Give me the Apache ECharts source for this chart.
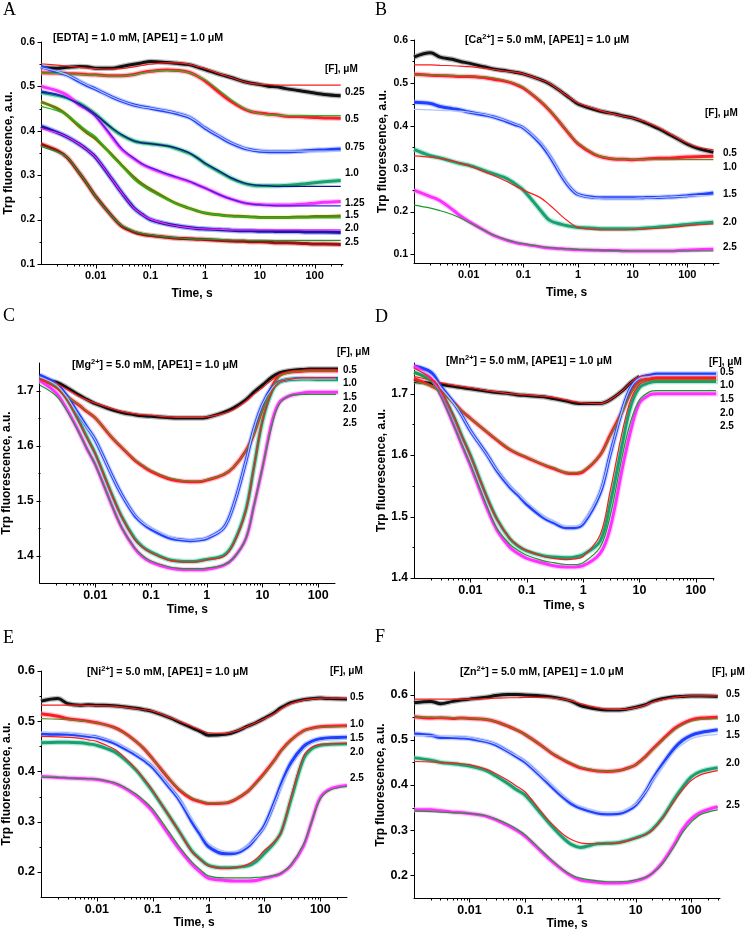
<!DOCTYPE html>
<html><head><meta charset="utf-8">
<script src="https://cdn.jsdelivr.net/npm/echarts@6/dist/echarts.min.js"></script>
<style>html,body{margin:0;padding:0;background:#fff}#c{width:745px;height:934px}</style>
</head><body><div id="c"></div>
<script>
// time points (s) shared by all traces
const timeS = [0.001,0.002,0.003,0.005,0.007,0.01,0.02,0.03,0.05,0.07,0.1,0.2,0.3,0.5,0.7,1,2,3,5,7,10,15,20,30,50,70,100,150,300];
const xTickVals = [0.01,0.1,1,10,100];
const xTickLabels = ['0.01','0.1','1','10','100'];

// ---- Panel A : [EDTA]
const aLabels = ['0.25','0.5','0.75','1.0','1.25','1.5','2.0','2.5'];
const a025Data=[0.543,0.541,0.543,0.545,0.544,0.541,0.541,0.545,0.550,0.553,0.556,0.554,0.552,0.549,0.544,0.538,0.526,0.520,0.511,0.507,0.504,0.500,0.499,0.495,0.491,0.488,0.485,0.482,0.479];
const a025Fit =[0.551,0.548,0.546,0.543,0.541,0.540,0.539,0.540,0.544,0.547,0.550,0.553,0.553,0.550,0.545,0.540,0.527,0.520,0.511,0.507,0.505,0.504,0.503,0.503,0.503,0.503,0.503,0.503,0.503];
const a05Data =[0.531,0.530,0.529,0.528,0.527,0.526,0.524,0.524,0.527,0.531,0.534,0.537,0.536,0.532,0.524,0.512,0.482,0.466,0.450,0.443,0.440,0.437,0.436,0.433,0.432,0.431,0.430,0.429,0.428];
const a05Fit  =[0.530,0.529,0.528,0.527,0.526,0.525,0.523,0.523,0.526,0.530,0.533,0.536,0.535,0.531,0.524,0.515,0.487,0.470,0.452,0.444,0.439,0.436,0.435,0.434,0.434,0.434,0.434,0.434,0.434];
const a075Data=[0.545,0.532,0.526,0.511,0.502,0.494,0.476,0.467,0.458,0.454,0.451,0.444,0.439,0.431,0.420,0.406,0.384,0.372,0.361,0.357,0.354,0.353,0.353,0.353,0.354,0.355,0.356,0.357,0.359];
const a075Fit =[0.542,0.534,0.526,0.512,0.503,0.494,0.476,0.467,0.458,0.454,0.451,0.445,0.440,0.432,0.421,0.407,0.385,0.373,0.362,0.357,0.355,0.354,0.354,0.354,0.354,0.354,0.354,0.354,0.354];
const a10Data =[0.487,0.480,0.474,0.462,0.451,0.437,0.405,0.390,0.377,0.373,0.371,0.366,0.360,0.350,0.340,0.326,0.305,0.293,0.282,0.278,0.276,0.276,0.276,0.277,0.279,0.281,0.283,0.285,0.288];
const a10Fit  =[0.487,0.481,0.474,0.461,0.450,0.436,0.406,0.391,0.377,0.373,0.371,0.366,0.361,0.351,0.340,0.327,0.306,0.294,0.283,0.279,0.277,0.276,0.275,0.275,0.275,0.275,0.275,0.275,0.275];
const a125Data=[0.500,0.490,0.480,0.458,0.448,0.433,0.385,0.358,0.337,0.325,0.316,0.302,0.295,0.286,0.279,0.271,0.254,0.246,0.238,0.235,0.234,0.233,0.233,0.233,0.234,0.235,0.237,0.239,0.241];
const a125Fit =[0.490,0.482,0.474,0.458,0.447,0.432,0.387,0.360,0.338,0.326,0.317,0.303,0.296,0.287,0.279,0.271,0.254,0.246,0.238,0.235,0.233,0.232,0.231,0.231,0.231,0.231,0.231,0.231,0.231];
const a15Data =[0.465,0.450,0.435,0.410,0.395,0.382,0.345,0.322,0.295,0.280,0.268,0.247,0.236,0.226,0.220,0.215,0.210,0.208,0.207,0.206,0.205,0.205,0.205,0.205,0.206,0.206,0.207,0.207,0.208];
const a15Fit  =[0.455,0.445,0.435,0.414,0.400,0.387,0.342,0.320,0.290,0.276,0.264,0.245,0.235,0.226,0.220,0.215,0.209,0.207,0.206,0.205,0.204,0.204,0.204,0.204,0.204,0.204,0.204,0.204,0.204];
const a20Data =[0.410,0.396,0.386,0.370,0.357,0.340,0.290,0.260,0.226,0.212,0.200,0.190,0.186,0.182,0.180,0.179,0.177,0.176,0.175,0.175,0.174,0.174,0.173,0.173,0.173,0.172,0.172,0.172,0.171];
const a20Fit  =[0.405,0.395,0.386,0.370,0.357,0.340,0.290,0.260,0.226,0.212,0.201,0.190,0.186,0.182,0.180,0.179,0.178,0.177,0.177,0.177,0.177,0.177,0.177,0.177,0.177,0.177,0.177,0.177,0.177];
const a25Data =[0.370,0.355,0.340,0.305,0.280,0.252,0.207,0.185,0.172,0.167,0.164,0.160,0.158,0.157,0.156,0.155,0.153,0.152,0.151,0.150,0.150,0.149,0.148,0.148,0.147,0.146,0.145,0.145,0.144];
const a25Fit  =[0.365,0.352,0.340,0.305,0.280,0.252,0.207,0.187,0.174,0.169,0.166,0.161,0.159,0.157,0.156,0.156,0.155,0.154,0.154,0.153,0.153,0.153,0.153,0.153,0.153,0.153,0.153,0.153,0.153];
const aYTicks = [0.1,0.2,0.3,0.4,0.5,0.6];

// ---- Panel B : [Ca2+]
const bLabels = ['0.5','1.0','1.5','2.0','2.5'];
const b05Data=[0.560,0.570,0.560,0.555,0.550,0.546,0.537,0.532,0.528,0.525,0.521,0.508,0.498,0.479,0.465,0.451,0.438,0.432,0.427,0.422,0.418,0.410,0.403,0.393,0.378,0.368,0.357,0.348,0.338];
const b05Fit =[0.542,0.542,0.541,0.540,0.539,0.538,0.534,0.531,0.527,0.525,0.521,0.508,0.499,0.479,0.466,0.453,0.440,0.433,0.426,0.422,0.418,0.412,0.406,0.396,0.380,0.370,0.360,0.351,0.344];
const b10Data=[0.520,0.518,0.517,0.516,0.515,0.515,0.512,0.508,0.503,0.497,0.488,0.458,0.436,0.403,0.380,0.358,0.333,0.326,0.322,0.322,0.321,0.322,0.323,0.324,0.325,0.326,0.327,0.328,0.329];
const b10Fit =[0.518,0.518,0.518,0.517,0.517,0.516,0.514,0.511,0.505,0.499,0.490,0.460,0.438,0.405,0.382,0.360,0.335,0.327,0.323,0.322,0.321,0.321,0.321,0.321,0.321,0.321,0.321,0.321,0.321];
const b15Data=[0.455,0.452,0.445,0.440,0.437,0.432,0.425,0.420,0.410,0.403,0.395,0.360,0.330,0.283,0.257,0.240,0.233,0.232,0.232,0.232,0.232,0.232,0.233,0.233,0.234,0.235,0.237,0.239,0.243];
const b15Fit =[0.438,0.437,0.436,0.435,0.434,0.432,0.426,0.420,0.411,0.404,0.396,0.362,0.332,0.285,0.258,0.240,0.232,0.231,0.231,0.231,0.231,0.232,0.232,0.233,0.234,0.235,0.236,0.237,0.238];
const b20Data=[0.345,0.330,0.325,0.317,0.312,0.308,0.295,0.287,0.277,0.265,0.250,0.205,0.180,0.170,0.166,0.163,0.161,0.160,0.160,0.160,0.160,0.161,0.162,0.164,0.166,0.168,0.170,0.172,0.175];
const b20Fit =[0.330,0.327,0.324,0.318,0.313,0.307,0.292,0.283,0.270,0.260,0.250,0.233,0.216,0.190,0.175,0.163,0.158,0.157,0.157,0.157,0.158,0.159,0.160,0.161,0.163,0.165,0.167,0.169,0.171];
const b25Data=[0.250,0.235,0.225,0.205,0.190,0.177,0.155,0.143,0.133,0.128,0.124,0.118,0.115,0.113,0.112,0.111,0.110,0.109,0.109,0.108,0.108,0.108,0.108,0.108,0.108,0.109,0.110,0.111,0.112];
const b25Fit =[0.215,0.208,0.202,0.193,0.185,0.175,0.155,0.144,0.134,0.129,0.125,0.119,0.116,0.114,0.113,0.112,0.110,0.110,0.109,0.109,0.108,0.108,0.108,0.108,0.108,0.108,0.108,0.108,0.108];
const bYTicks = [0.1,0.2,0.3,0.4,0.5,0.6];

// ---- Panel C : [Mg2+]
const c05Data=[1.722,1.715,1.706,1.692,1.684,1.676,1.665,1.660,1.656,1.654,1.653,1.651,1.650,1.650,1.650,1.651,1.660,1.668,1.683,1.697,1.710,1.725,1.732,1.736,1.738,1.739,1.739,1.739,1.739];
const c05Fit =[1.721,1.712,1.703,1.690,1.683,1.677,1.667,1.662,1.658,1.656,1.655,1.652,1.651,1.651,1.651,1.652,1.658,1.665,1.680,1.693,1.705,1.720,1.728,1.733,1.736,1.737,1.737,1.737,1.737];
const c10Data=[1.722,1.706,1.690,1.674,1.662,1.650,1.614,1.596,1.574,1.563,1.553,1.540,1.536,1.534,1.534,1.537,1.547,1.560,1.590,1.621,1.666,1.707,1.727,1.733,1.735,1.736,1.736,1.736,1.736];
const c10Fit =[1.720,1.705,1.690,1.675,1.663,1.650,1.615,1.597,1.575,1.565,1.555,1.542,1.538,1.535,1.535,1.538,1.548,1.560,1.590,1.620,1.665,1.705,1.725,1.732,1.735,1.735,1.735,1.735,1.735];
const c15Data=[1.728,1.712,1.692,1.657,1.634,1.610,1.545,1.510,1.474,1.459,1.448,1.433,1.429,1.427,1.428,1.431,1.450,1.490,1.570,1.630,1.675,1.706,1.716,1.720,1.722,1.722,1.722,1.722,1.722];
const c15Fit =[1.725,1.710,1.690,1.655,1.633,1.610,1.545,1.510,1.475,1.460,1.450,1.435,1.430,1.428,1.429,1.432,1.450,1.490,1.570,1.630,1.675,1.705,1.715,1.720,1.721,1.721,1.721,1.721,1.721];
const c20Data=[1.722,1.707,1.686,1.646,1.616,1.585,1.510,1.470,1.432,1.416,1.406,1.393,1.390,1.389,1.390,1.393,1.400,1.422,1.482,1.560,1.645,1.700,1.715,1.720,1.721,1.721,1.720,1.720,1.720];
const c20Fit =[1.720,1.705,1.685,1.645,1.615,1.585,1.510,1.470,1.430,1.415,1.405,1.392,1.389,1.388,1.389,1.392,1.398,1.420,1.480,1.560,1.645,1.700,1.715,1.720,1.723,1.723,1.723,1.723,1.723];
const c25Data=[1.718,1.695,1.668,1.626,1.595,1.565,1.490,1.450,1.414,1.398,1.388,1.378,1.375,1.374,1.374,1.375,1.382,1.395,1.430,1.490,1.560,1.645,1.678,1.690,1.695,1.697,1.697,1.697,1.697];
const c25Fit =[1.710,1.690,1.665,1.625,1.595,1.565,1.490,1.450,1.415,1.400,1.390,1.380,1.377,1.376,1.376,1.377,1.383,1.395,1.430,1.490,1.560,1.640,1.675,1.690,1.693,1.693,1.693,1.693,1.693];
const cYTicks = [1.4,1.5,1.6,1.7];

// ---- Panel D : [Mn2+]
const d05Data=[1.720,1.717,1.715,1.712,1.710,1.708,1.704,1.702,1.700,1.698,1.697,1.695,1.692,1.688,1.685,1.684,1.684,1.690,1.705,1.718,1.728,null,null,null,null,null,null,null,null];
const d05Fit =[1.728,1.722,1.718,1.714,1.712,1.710,1.705,1.703,1.700,1.699,1.698,1.696,1.694,1.690,1.687,1.685,1.684,1.690,1.705,1.718,1.728,1.729,1.729,1.729,1.729,1.729,1.729,1.729,1.729];
const d10Data=[1.725,1.713,1.704,1.686,1.672,1.660,1.637,1.624,1.609,1.602,1.596,1.584,1.578,1.571,1.570,1.573,1.600,1.632,1.672,1.702,1.720,1.724,1.725,1.725,1.725,1.725,1.725,1.725,1.725];
const d10Fit =[1.720,1.712,1.703,1.685,1.672,1.660,1.638,1.625,1.610,1.603,1.597,1.585,1.580,1.572,1.572,1.575,1.600,1.630,1.670,1.700,1.718,1.722,1.722,1.722,1.722,1.722,1.722,1.722,1.722];
const d15Data=[1.745,1.735,1.712,1.686,1.665,1.640,1.600,1.574,1.548,1.535,1.520,1.498,1.490,1.482,1.482,1.488,1.538,1.600,1.675,1.710,1.726,1.730,1.732,1.732,1.732,1.732,1.732,1.732,1.732];
const d15Fit =[1.740,1.730,1.710,1.685,1.665,1.640,1.600,1.575,1.550,1.537,1.523,1.500,1.492,1.484,1.484,1.490,1.540,1.600,1.675,1.710,1.725,1.728,1.730,1.730,1.730,1.730,1.730,1.730,1.730];
const d20Data=[1.735,1.722,1.703,1.664,1.632,1.600,1.530,1.495,1.464,1.452,1.444,1.436,1.434,1.433,1.434,1.438,1.460,1.520,1.620,1.680,1.710,1.718,1.720,1.720,1.720,1.720,1.720,1.720,1.720];
const d20Fit =[1.742,1.725,1.705,1.665,1.632,1.600,1.530,1.495,1.465,1.453,1.445,1.435,1.432,1.430,1.431,1.435,1.470,1.540,1.640,1.690,1.715,1.722,1.725,1.725,1.725,1.725,1.725,1.725,1.725];
const d25Data=[1.745,1.725,1.697,1.650,1.617,1.583,1.512,1.477,1.450,1.440,1.432,1.424,1.420,1.418,1.418,1.420,1.440,1.480,1.580,1.640,1.685,1.698,1.700,1.700,1.700,1.700,1.700,1.700,1.700];
const d25Fit =[1.735,1.720,1.695,1.650,1.618,1.585,1.515,1.480,1.455,1.445,1.437,1.428,1.425,1.422,1.422,1.425,1.450,1.500,1.600,1.655,1.690,1.703,1.705,1.705,1.705,1.705,1.705,1.705,1.705];
const dYTicks = [1.4,1.5,1.6,1.7];

// ---- Panel E : [Ni2+]
const e05Data=[0.540,0.545,0.535,0.532,0.533,0.532,0.531,0.529,0.526,0.523,0.519,0.507,0.498,0.487,0.480,0.472,0.474,0.479,0.490,0.497,0.506,0.517,0.527,0.537,0.543,0.545,0.546,0.545,0.544];
const e05Fit =[0.532,0.532,0.532,0.532,0.531,0.531,0.530,0.528,0.525,0.523,0.520,0.508,0.500,0.490,0.483,0.477,0.476,0.480,0.490,0.497,0.505,0.515,0.525,0.535,0.542,0.544,0.546,0.546,0.546];
const e10Data=[0.515,0.510,0.505,0.502,0.500,0.497,0.488,0.478,0.460,0.445,0.425,0.384,0.363,0.345,0.340,0.336,0.337,0.344,0.360,0.377,0.397,0.422,0.442,0.463,0.481,0.486,0.489,0.490,0.491];
const e10Fit =[0.505,0.504,0.503,0.501,0.499,0.497,0.487,0.477,0.460,0.445,0.425,0.385,0.365,0.348,0.342,0.338,0.338,0.345,0.360,0.375,0.395,0.420,0.440,0.462,0.480,0.485,0.488,0.489,0.490];
const e15Data=[0.475,0.474,0.474,0.472,0.470,0.468,0.457,0.447,0.433,0.422,0.408,0.368,0.343,0.300,0.275,0.250,0.236,0.237,0.250,0.268,0.292,0.338,0.375,0.418,0.450,0.460,0.465,0.467,0.468];
const e15Fit =[0.478,0.477,0.476,0.474,0.472,0.469,0.459,0.449,0.435,0.424,0.410,0.370,0.345,0.305,0.280,0.257,0.241,0.240,0.252,0.268,0.290,0.335,0.370,0.410,0.443,0.455,0.461,0.463,0.464];
const e20Data=[0.457,0.458,0.458,0.457,0.455,0.452,0.440,0.426,0.403,0.383,0.360,0.310,0.280,0.242,0.226,0.213,0.208,0.209,0.212,0.220,0.237,0.258,0.280,0.345,0.425,0.445,0.452,0.454,0.455];
const e20Fit =[0.470,0.469,0.468,0.466,0.463,0.460,0.445,0.430,0.405,0.385,0.362,0.310,0.280,0.240,0.225,0.212,0.207,0.208,0.215,0.225,0.243,0.260,0.280,0.350,0.430,0.448,0.454,0.455,0.456];
const e25Data=[0.390,0.388,0.387,0.386,0.385,0.384,0.377,0.368,0.352,0.338,0.320,0.272,0.245,0.215,0.200,0.187,0.183,0.182,0.182,0.183,0.187,0.192,0.197,0.213,0.252,0.300,0.348,0.365,0.372];
const e25Fit =[0.388,0.388,0.387,0.386,0.386,0.385,0.378,0.370,0.355,0.342,0.325,0.278,0.250,0.220,0.205,0.192,0.188,0.188,0.188,0.189,0.190,0.193,0.198,0.215,0.255,0.300,0.345,0.363,0.370];
const eYTicks = [0.2,0.3,0.4,0.5,0.6];

// ---- Panel F : [Zn2+]
const f05Data=[0.582,0.585,0.580,0.585,0.588,0.590,0.594,0.598,0.600,0.600,0.599,0.597,0.595,0.590,0.585,0.576,0.568,0.566,0.566,0.568,0.572,0.578,0.585,0.591,0.595,0.596,0.597,0.597,0.596];
const f05Fit =[0.590,0.590,0.590,0.590,0.590,0.590,0.591,0.592,0.593,0.593,0.594,0.594,0.593,0.590,0.586,0.580,0.571,0.568,0.567,0.568,0.571,0.577,0.583,0.589,0.594,0.596,0.597,0.597,0.597];
const f10Data=[0.551,0.548,0.549,0.547,0.548,0.547,0.545,0.540,0.530,0.522,0.512,0.487,0.471,0.455,0.446,0.438,0.431,0.430,0.432,0.437,0.445,0.463,0.479,0.500,0.525,0.536,0.544,0.548,0.550];
const f10Fit =[0.550,0.550,0.549,0.549,0.548,0.548,0.545,0.540,0.530,0.522,0.512,0.487,0.472,0.456,0.448,0.440,0.432,0.430,0.432,0.437,0.445,0.462,0.477,0.498,0.522,0.533,0.541,0.545,0.547];
const f15Data=[0.513,0.510,0.505,0.505,0.504,0.503,0.496,0.489,0.474,0.463,0.451,0.418,0.397,0.372,0.358,0.349,0.338,0.336,0.337,0.343,0.356,0.385,0.412,0.445,0.482,0.499,0.510,0.516,0.522];
const f15Fit =[0.510,0.509,0.508,0.507,0.506,0.505,0.497,0.490,0.475,0.465,0.453,0.420,0.400,0.375,0.362,0.352,0.341,0.339,0.340,0.346,0.358,0.385,0.410,0.440,0.475,0.490,0.502,0.508,0.512];
const f20Data=[0.460,0.455,0.450,0.447,0.445,0.442,0.432,0.420,0.403,0.390,0.378,0.335,0.310,0.282,0.268,0.262,0.270,0.271,0.273,0.277,0.283,0.291,0.302,0.327,0.370,0.395,0.418,0.430,0.438];
const f20Fit =[0.452,0.451,0.450,0.449,0.447,0.445,0.435,0.425,0.410,0.398,0.385,0.340,0.315,0.290,0.279,0.272,0.270,0.270,0.272,0.276,0.282,0.290,0.300,0.325,0.365,0.390,0.410,0.423,0.432];
const f25Data=[0.345,0.345,0.343,0.340,0.339,0.337,0.331,0.323,0.310,0.300,0.287,0.252,0.232,0.210,0.198,0.190,0.185,0.183,0.183,0.184,0.188,0.195,0.205,0.228,0.270,0.302,0.325,0.340,0.352];
const f25Fit =[0.342,0.341,0.340,0.339,0.338,0.337,0.332,0.325,0.313,0.303,0.290,0.255,0.235,0.212,0.201,0.194,0.188,0.186,0.186,0.187,0.190,0.196,0.205,0.225,0.265,0.295,0.318,0.335,0.345];
const fYTicks = [0.2,0.3,0.4,0.5,0.6];

// ---------------- styling / layout ----------------
const FONT = '"Liberation Sans", Arial, sans-serif';
const COL = {
  blk:['#111111','#8c8c8c'], red:['#ff1a2a','#ff9aa8'], blu:['#2040ff','#9fb0ff'],
  grn:['#1aa070','#80d8b8'], mag:['#ff30ff','#ffa8ff'], olv:['#6a7a10','#f0f0b0'],
  nav:['#1a1aa0','#7080ff'], drd:['#a01010','#e08080']
};
const FIT = {red:'#ff1a1a', grn:'#22bb22', olv:'#5f8a1f', lbl:'#b4c4f4', nav:'#10108a', blu:'#2030e0', mag:'#ff20ff', dgr:'#1a9a2a'};

const panels = [
  {letter:'A', grid:{left:41,top:42,width:302,height:222}, xMax:330, yMin:0.1, yMax:0.6, yTicks:aYTicks, xGap:24, yGap:26, xFs:11, yFs:10.5,
   title:'{b|[EDTA] = 1.0 mM, [APE1] = 1.0 μM}', tx:53, ty:38, fx:325, fy:69, lx:345,
   ly:[92,119,147,173,203,215,228,242], labels:aLabels,
   traces:[[a025Data,a025Fit,'blk','red'],[a05Data,a05Fit,'red','grn'],[a075Data,a075Fit,'blu','lbl'],[a10Data,a10Fit,'grn','nav'],
           [a125Data,a125Fit,'mag','blu'],[a15Data,a15Fit,'olv','grn'],[a20Data,a20Fit,'nav','mag'],[a25Data,a25Fit,'drd','dgr']]},
  {letter:'B', grid:{left:414,top:40,width:305,height:223}, xMax:380, yMin:0.08, yMax:0.6, yTicks:bYTicks, xGap:24, yGap:25, xFs:11, yFs:10.5,
   title:'{b|[Ca}{s|2+}{b|] = 5.0 mM, [APE1] = 1.0 μM}', tx:465, ty:40, fx:705, fy:113, lx:723,
   ly:[153,167,194,222,247], labels:bLabels,
   traces:[[b05Data,b05Fit,'blk','red'],[b10Data,b10Fit,'red','olv'],[b15Data,b15Fit,'blu','lbl'],[b20Data,b20Fit,'grn','red'],[b25Data,b25Fit,'mag','dgr']]},
  {letter:'C', grid:{left:38,top:363,width:297,height:220}, xMax:200, yMin:1.35, yMax:1.75, yTicks:cYTicks, xGap:21, yGap:23, xFs:12.5, yFs:12,
   title:'{b|[Mg}{s|2+}{b|] = 5.0 mM, [APE1] = 1.0 μM}', tx:72, ty:365, fx:337, fy:352, lx:343,
   ly:[370,383,397,409,423], labels:bLabels,
   traces:[[c05Data,c05Fit,'blk','red'],[c10Data,c10Fit,'red','olv'],[c15Data,c15Fit,'blu','lbl'],[c20Data,c20Fit,'grn','red'],[c25Data,c25Fit,'mag','dgr']]},
  {letter:'D', grid:{left:414,top:363,width:300,height:215}, xMax:210, yMin:1.4, yMax:1.75, yTicks:dYTicks, xGap:22, yGap:25, xFs:12.5, yFs:12,
   title:'{b|[Mn}{s|2+}{b|] = 5.0 mM, [APE1] = 1.0 μM}', tx:446, ty:361, fx:709, fy:362, lx:720,
   ly:[372,385,399,413,426], labels:bLabels,
   traces:[[d05Data,d05Fit,'blk','red'],[d10Data,d10Fit,'red','olv'],[d15Data,d15Fit,'blu','lbl'],[d20Data,d20Fit,'grn','red'],[d25Data,d25Fit,'mag','dgr']]},
  {letter:'E', grid:{left:41,top:671,width:306,height:226}, xMax:300, yMin:0.15, yMax:0.6, yTicks:eYTicks, xGap:20, yGap:28, xFs:12.5, yFs:12.5,
   title:'{b|[Ni}{s|2+}{b|] = 5.0 mM, [APE1] = 1.0 μM}', tx:87, ty:672, fx:330, fy:671, lx:350,
   ly:[697,724,738,752,778], labels:bLabels,
   traces:[[e05Data,e05Fit,'blk','red'],[e10Data,e10Fit,'red','olv'],[e15Data,e15Fit,'blu','lbl'],[e20Data,e20Fit,'grn','red'],[e25Data,e25Fit,'mag','dgr']]},
  {letter:'F', grid:{left:414,top:672,width:306,height:226}, xMax:330, yMin:0.15, yMax:0.65, yTicks:fYTicks, xGap:19, yGap:25, xFs:12.5, yFs:12.5,
   title:'{b|[Zn}{s|2+}{b|] = 5.0 mM, [APE1] = 1.0 μM}', tx:460, ty:672, fx:712, fy:672, lx:726,
   ly:[694,719,735,763,805], labels:bLabels,
   traces:[[f05Data,f05Fit,'blk','red'],[f10Data,f10Fit,'red','olv'],[f15Data,f15Fit,'blu','lbl'],[f20Data,f20Fit,'grn','red'],[f25Data,f25Fit,'mag','dgr']]}
];
const letterPos = [[3,10],[375,10],[3,316],[375,317],[3,638],[375,637]];

// minor tick positions on the log axis (2..9 x decade)
const xMinorAll = [];
[0.001,0.01,0.1,1,10,100].forEach(d => [2,3,4,5,6,7,8,9].forEach(m => xMinorAll.push(+(m*d).toPrecision(3))));

const grids=[], xAxes=[], yAxes=[], series=[], graphic=[];
const nameTxt = {color:'#000', fontFamily:FONT, fontWeight:'bold', fontSize:12};

// tick marks drawn through the axis scales (value -> pixel via api.coord)
function tickRender(params, api) {
  const pt = api.coord([api.value(0), api.value(1)]);
  const len = api.value(2);
  const horiz = api.value(3) === 1;
  const x = Math.round(pt[0]) + 0.5, y = Math.round(pt[1]) + 0.5;
  return horiz
    ? {type:'line', shape:{x1:x - len, y1:y, x2:x, y2:y}, style:{stroke:'#000', lineWidth:1}}
    : {type:'line', shape:{x1:x, y1:y, x2:x, y2:y + len}, style:{stroke:'#000', lineWidth:1}};
}

panels.forEach((p, i) => {
  grids.push(Object.assign({}, p.grid));
  xAxes.push({type:'log', logBase:10, gridIndex:i, min:0.001, max:p.xMax, position:'bottom',
    axisLine:{onZero:false, lineStyle:{color:'#000', width:1}},
    axisTick:{show:false},
    axisLabel:{customValues:xTickVals, margin:6, color:'#000', fontFamily:FONT, fontWeight:'bold', fontSize:p.xFs,
      formatter:v => xTickLabels[xTickVals.findIndex(t => Math.abs(Math.log10(t) - Math.log10(v)) < 1e-6)] || ''},
    splitLine:{show:false}, minorTick:{show:false},
    name:'Time, s', nameLocation:'middle', nameGap:p.xGap, nameTextStyle:nameTxt});
  yAxes.push({type:'value', gridIndex:i, min:p.yMin, max:p.yMax, position:'left',
    axisLine:{show:true, onZero:false, lineStyle:{color:'#000', width:1}},
    axisTick:{show:false},
    axisLabel:{customValues:p.yTicks, margin:6, color:'#000', fontFamily:FONT, fontWeight:'bold', fontSize:p.yFs, formatter:v => (+v).toFixed(1)},
    splitLine:{show:false},
    name:'Trp fluorescence, a.u.', nameLocation:'middle', nameGap:p.yGap, nameTextStyle:nameTxt});

  const pairs = arr => timeS.map((t, k) => [t, arr[k]]);
  p.traces.forEach(tr => {
    const [dArr, , dc] = tr;
    series.push({type:'line', xAxisIndex:i, yAxisIndex:i, data:pairs(dArr), showSymbol:false, symbol:'none', smooth:0.35, silent:true,
      lineStyle:{color:COL[dc][1], width:5.5, opacity:0.6}, z:2});
    series.push({type:'line', xAxisIndex:i, yAxisIndex:i, data:pairs(dArr), showSymbol:false, symbol:'none', smooth:0.35, silent:true,
      lineStyle:{color:COL[dc][0], width:3}, z:3});
  });
  p.traces.forEach(tr => {
    const [, fArr, , fc] = tr;
    series.push({type:'line', xAxisIndex:i, yAxisIndex:i, data:pairs(fArr), showSymbol:false, symbol:'none', smooth:0.35, silent:true,
      lineStyle:{color:FIT[fc], width:1.2}, z:4});
  });

  // axis ticks: [x, y, length, orientation]
  const tickData = [];
  xTickVals.filter(v => v < p.xMax).forEach(v => tickData.push([v, p.yMin, 4, 0]));
  xMinorAll.filter(v => v > 0.001 && v < p.xMax).forEach(v => tickData.push([v, p.yMin, 2, 0]));
  p.yTicks.forEach(v => tickData.push([0.001, v, 4, 1]));
  p.yTicks.map(v => +(v - 0.05).toFixed(3)).concat([+(p.yTicks[p.yTicks.length-1] + 0.05).toFixed(3)])
    .filter(v => v > p.yMin + 1e-9 && v < p.yMax - 1e-9).forEach(v => tickData.push([0.001, v, 2, 1]));
  series.push({type:'custom', xAxisIndex:i, yAxisIndex:i, data:tickData, renderItem:tickRender, clip:false, silent:true, z:10,
    encode:{x:0, y:1}});

  // texts
  graphic.push({type:'text', x:letterPos[i][0], y:letterPos[i][1], style:{text:p.letter, font:'18px "Liberation Serif", "Times New Roman", serif', fill:'#000', verticalAlign:'middle'}});
  graphic.push({type:'text', x:p.tx, y:p.ty, style:{text:p.title, verticalAlign:'middle', fill:'#000',
    rich:{b:{fontFamily:FONT, fontWeight:'bold', fontSize:10.7, fill:'#000', lineHeight:14}, s:{fontFamily:FONT, fontWeight:'bold', fontSize:7.5, fill:'#000', lineHeight:14, verticalAlign:'top', padding:[0,0,5,0]}}}});
  graphic.push({type:'text', x:p.fx, y:p.fy, style:{text:'[F], μM', font:'bold 10px ' + FONT, fill:'#000', verticalAlign:'middle'}});
  p.labels.forEach((lab, k) => {
    graphic.push({type:'text', x:p.lx, y:p.ly[k], style:{text:lab, font:'bold 10px ' + FONT, fill:'#000', verticalAlign:'middle'}});
  });
});

const chart = echarts.init(document.getElementById('c'), null, {renderer:'canvas'});
chart.setOption({
  backgroundColor:'#fff', animation:false,
  grid:grids, xAxis:xAxes, yAxis:yAxes, series:series, graphic:graphic
});
</script></body></html>
